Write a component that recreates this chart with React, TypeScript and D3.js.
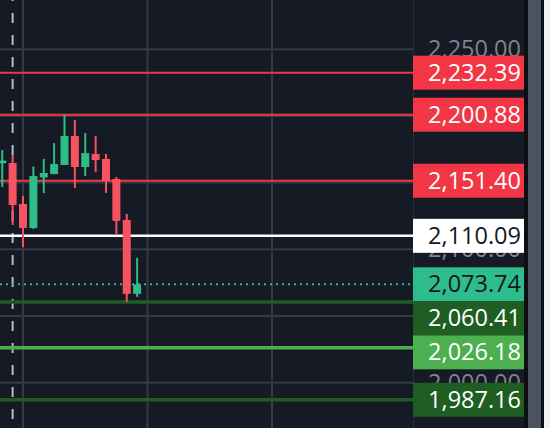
import React from "react";
import * as d3 from "d3";

// ---- data ----
const opens = [2164.5, 2164.7, 2134.0, 2116.0, 2153.9, 2156.4, 2163.2, 2184.9, 2161.7, 2171.4, 2167.7, 2152.7, 2122.0, 2066.6];
const highs = [2174.4, 2170.7, 2140.0, 2162.1, 2167.7, 2179.6, 2200.6, 2196.9, 2187.1, 2184.9, 2171.4, 2154.2, 2126.5, 2093.6];
const lows = [2146.7, 2118.3, 2101.8, 2115.3, 2142.2, 2156.4, 2163.2, 2146.0, 2154.9, 2157.9, 2142.2, 2110.8, 2060.6, 2064.4];
const closes = [2166.5, 2133.2, 2116.0, 2154.9, 2157.2, 2163.9, 2184.9, 2161.7, 2172.1, 2166.9, 2151.2, 2121.3, 2066.6, 2073.74];

const priceTicks = [2000, 2050, 2100, 2150, 2200, 2250];
const levels = [2232.39, 2200.88, 2151.4, 2110.09, 2073.74, 2060.41, 2026.18, 1987.16];
const gridBars = [2, 14, 26];
const markerBar = 1;

// ---- styles ----
const RED = "#f23645";
const levelStyles = [
  { line: RED, bg: RED, fg: "#ffffff", w: 2, dash: "" },
  { line: RED, bg: RED, fg: "#ffffff", w: 2, dash: "" },
  { line: RED, bg: RED, fg: "#ffffff", w: 2, dash: "" },
  { line: "#ffffff", bg: "#ffffff", fg: "#131722", w: 2.5, dash: "" },
  { line: "#2bb59a", bg: "#2dbd8c", fg: "#131722", w: 2, dash: "2,4" },
  { line: "#1e5e22", bg: "#1e5e22", fg: "#ffffff", w: 3.5, dash: "" },
  { line: "#4caf50", bg: "#4caf50", fg: "#ffffff", w: 3.5, dash: "" },
  { line: "#1e5e22", bg: "#1e5e22", fg: "#ffffff", w: 3.5, dash: "" },
];

const W = 550;
const H = 428;
const PLOT_R = 413;
const AXIS_R = 524;
const BG = "#161a25";
const GRID = "#363a45";
const UP = "#2ebd85";
const DOWN = "#f7525f";
const LABEL_H = 34;
const FS = 23.5;

export default function App() {
  const y = d3.scaleLinear().domain([2000, 2250]).range([382.7, 49.2]);
  const x = d3.scaleLinear().domain([0, 26]).range([2.25, 272]);
  const fmt = d3.format(",.2f");
  const bodyW = 8;

  // label placement with collision avoidance
  const order = levels.map((v, i) => i).sort((a, b) => levels[b] - levels[a]);
  const labelY: number[] = new Array(levels.length);
  let prevBottom = -Infinity;
  order.forEach((i) => {
    const c = Math.max(y(levels[i]), prevBottom + LABEL_H / 2);
    labelY[i] = c;
    prevBottom = c + LABEL_H / 2;
  });

  // tick labels entirely hidden behind a level box are not drawn
  const textHalf = 9;
  const visibleTicks = priceTicks.filter((t) => {
    const ty = y(t) - 1;
    return !labelY.some((c) => ty - textHalf >= c - LABEL_H / 2 && ty + textHalf <= c + LABEL_H / 2);
  });

  const font = "'Open Sans', 'Noto Sans', sans-serif";

  return (
    <div style={{ position: "fixed", left: 0, top: 0, width: W, height: H }}>
      <svg width={W} height={H} style={{ display: "block" }}>
        <rect x={0} y={0} width={W} height={H} fill={BG} />
        {/* right chrome */}
        <rect x={AXIS_R} y={0} width={4} height={H} fill="#0c0e14" />
        <rect x={528} y={0} width={13} height={H} fill="#4b5260" />
        <rect x={541} y={0} width={3} height={H} fill="#0c0e14" />
        <rect x={544} y={0} width={6} height={H} fill="#f2f2f2" />

        <clipPath id="plot">
          <rect x={0} y={0} width={PLOT_R} height={H} />
        </clipPath>

        <g clipPath="url(#plot)">
          {/* grid */}
          {priceTicks.map((t) => (
            <line key={t} x1={0} x2={PLOT_R} y1={y(t)} y2={y(t)} stroke={GRID} strokeWidth={2} />
          ))}
          {gridBars.map((b) => (
            <line key={b} x1={x(b)} x2={x(b)} y1={0} y2={H} stroke={GRID} strokeWidth={2} />
          ))}
          {/* dashed marker */}
          <line
            x1={x(markerBar)}
            x2={x(markerBar)}
            y1={-9}
            y2={H}
            stroke="#b8bbc4"
            strokeWidth={2}
            strokeDasharray="10,12"
          />
          {/* level lines */}
          {levels.map((v, i) => (
            <line
              key={v}
              x1={0}
              x2={PLOT_R}
              y1={y(v)}
              y2={y(v)}
              stroke={levelStyles[i].line}
              strokeWidth={levelStyles[i].w}
              strokeDasharray={levelStyles[i].dash || undefined}
            />
          ))}
          {/* candles */}
          {opens.map((o, i) => {
            const c = closes[i];
            const up = c >= o;
            const col = up ? UP : DOWN;
            const top = y(Math.max(o, c));
            const bot = y(Math.min(o, c));
            return (
              <g key={i}>
                <line x1={x(i)} x2={x(i)} y1={y(highs[i])} y2={y(lows[i])} stroke={col} strokeWidth={2} />
                <rect x={x(i) - bodyW / 2} y={top} width={bodyW} height={Math.max(1.5, bot - top)} fill={col} />
              </g>
            );
          })}
        </g>

        {/* axis border */}
        <line x1={PLOT_R + 0.5} x2={PLOT_R + 0.5} y1={0} y2={H} stroke="#2a2e39" strokeWidth={1} />

        {/* axis tick labels */}
        {visibleTicks.map((t) => (
          <text
            key={t}
            x={521}
            y={y(t) - 1}
            textAnchor="end"
            dominantBaseline="central"
            fontFamily={font}
            fontSize={FS}
            fill="#80838d"
          >
            {fmt(t)}
          </text>
        ))}

        {/* level labels */}
        {levels.map((v, i) => (
          <g key={v}>
            <rect
              x={PLOT_R}
              y={labelY[i] - LABEL_H / 2}
              width={AXIS_R - PLOT_R}
              height={LABEL_H}
              fill={levelStyles[i].bg}
            />
            <text
              x={521}
              y={labelY[i] - 1}
              textAnchor="end"
              dominantBaseline="central"
              fontFamily={font}
              fontSize={FS}
              fill={levelStyles[i].fg}
            >
              {fmt(v)}
            </text>
          </g>
        ))}
      </svg>
    </div>
  );
}
